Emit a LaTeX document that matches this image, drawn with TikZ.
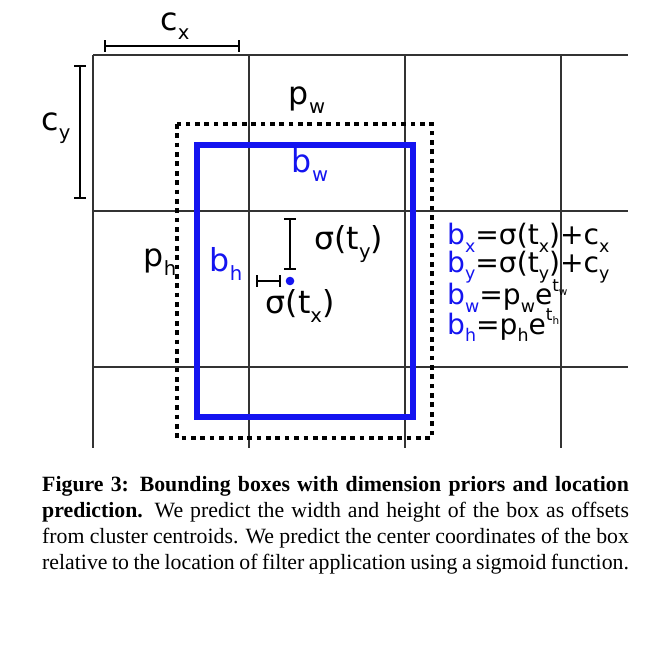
\documentclass[tikz,border=0pt]{standalone}
\usepackage{fontspec}
\setmainfont{DejaVu Sans}
\newfontfamily\capfont{Liberation Serif}
\usetikzlibrary{positioning}
\definecolor{boxblue}{RGB}{20,20,240}
\newcommand{\sub}[1]{\raisebox{-0.5ex}{\scalebox{0.62}{#1}}}
\newcommand{\supr}[1]{\raisebox{0.9ex}{\scalebox{0.6}{#1}}}
\begin{document}
\begin{tikzpicture}[x=0.03cm, y=-0.03cm]
\tikzset{
  grid/.style={draw=black!80, line width=0.9pt},
  bar/.style={draw, line width=1.6pt, |-|},
  prior/.style={draw, line width=4pt, dash pattern=on 4pt off 4pt},
  pred/.style={draw=boxblue, line width=4.5pt},
  lbl/.style={font=\fontsize{27}{30}\selectfont, inner sep=0pt},
  eq/.style={font=\fontsize{24}{27}\selectfont, anchor=west, inner sep=0pt},
}
\useasboundingbox (0,0) rectangle (668,648);

% grid cells
\foreach \x in {93,249,405,561}
  \draw[grid] (\x,55) -- (\x,448);
\foreach \y in {55,211,367}
  \draw[grid] (93,\y) -- (628,\y);

% cell size brackets
\coordinate (cxa) at (104,46);
\coordinate (cxb) at (240,46);
\draw[bar] (cxa) -- (cxb);
\node[lbl] (cx) at (175,26) {c\sub{x}};
\coordinate (cya) at (80,65);
\coordinate (cyb) at (80,199);
\draw[bar] (cya) -- (cyb);
\node[lbl] (cy) at (56,128) {c\sub{y}};

% prior and predicted boxes
\draw[prior] (177,124) rectangle (432,438);
\draw[pred] (197,145) rectangle (413,417);
\node[lbl] (pw) at (307,100) {p\sub{w}};
\node[lbl, text=boxblue] (bw) at (310,165) {b\sub{w}};
\node[lbl] (ph) at (160,262) {p\sub{h}};
\node[lbl, text=boxblue] (bh) at (226,264) {b\sub{h}};

% center offsets
\node[circle, fill=boxblue, inner sep=2.6pt] (ctr) at (290,281) {};
\coordinate (tya) at (290,218);
\coordinate (tyb) at (290,270);
\draw[bar] (tya) -- (tyb);
\node[lbl, anchor=west] (sy) at (314,244) {σ(t\sub{y})};
\coordinate (txa) at (256,281);
\coordinate (txb) at (281,281);
\draw[bar] (txa) -- (txb);
\node[lbl] (sx) at (300,306) {σ(t\sub{x})};

% equations
\node[eq] (e1) at (447,238) {\textcolor{boxblue}{b\sub{x}}=σ(t\sub{x})+c\sub{x}};
\node[eq] (e2) at (447,267) {\textcolor{boxblue}{b\sub{y}}=σ(t\sub{y})+c\sub{y}};
\node[eq] (e3) at (447,296) {\textcolor{boxblue}{b\sub{w}}=p\sub{w}e\supr{t\sub{w}}};
\node[eq] (e4) at (447,325) {\textcolor{boxblue}{b\sub{h}}=p\sub{h}e\supr{t\sub{h}}};

% caption
\node[anchor=north west, text width=17.6cm, align=justify, inner sep=0pt,
  font=\capfont\fontsize{18.6}{22.2}\selectfont] (cap) at (42,476)
  {\textbf{Figure 3: Bounding boxes with dimension priors and location prediction.}
   We predict the width and height of the box as offsets from cluster centroids.
   We predict the center coordinates of the box relative to the location of filter
   application using a sigmoid function.};
\end{tikzpicture}
\end{document}
